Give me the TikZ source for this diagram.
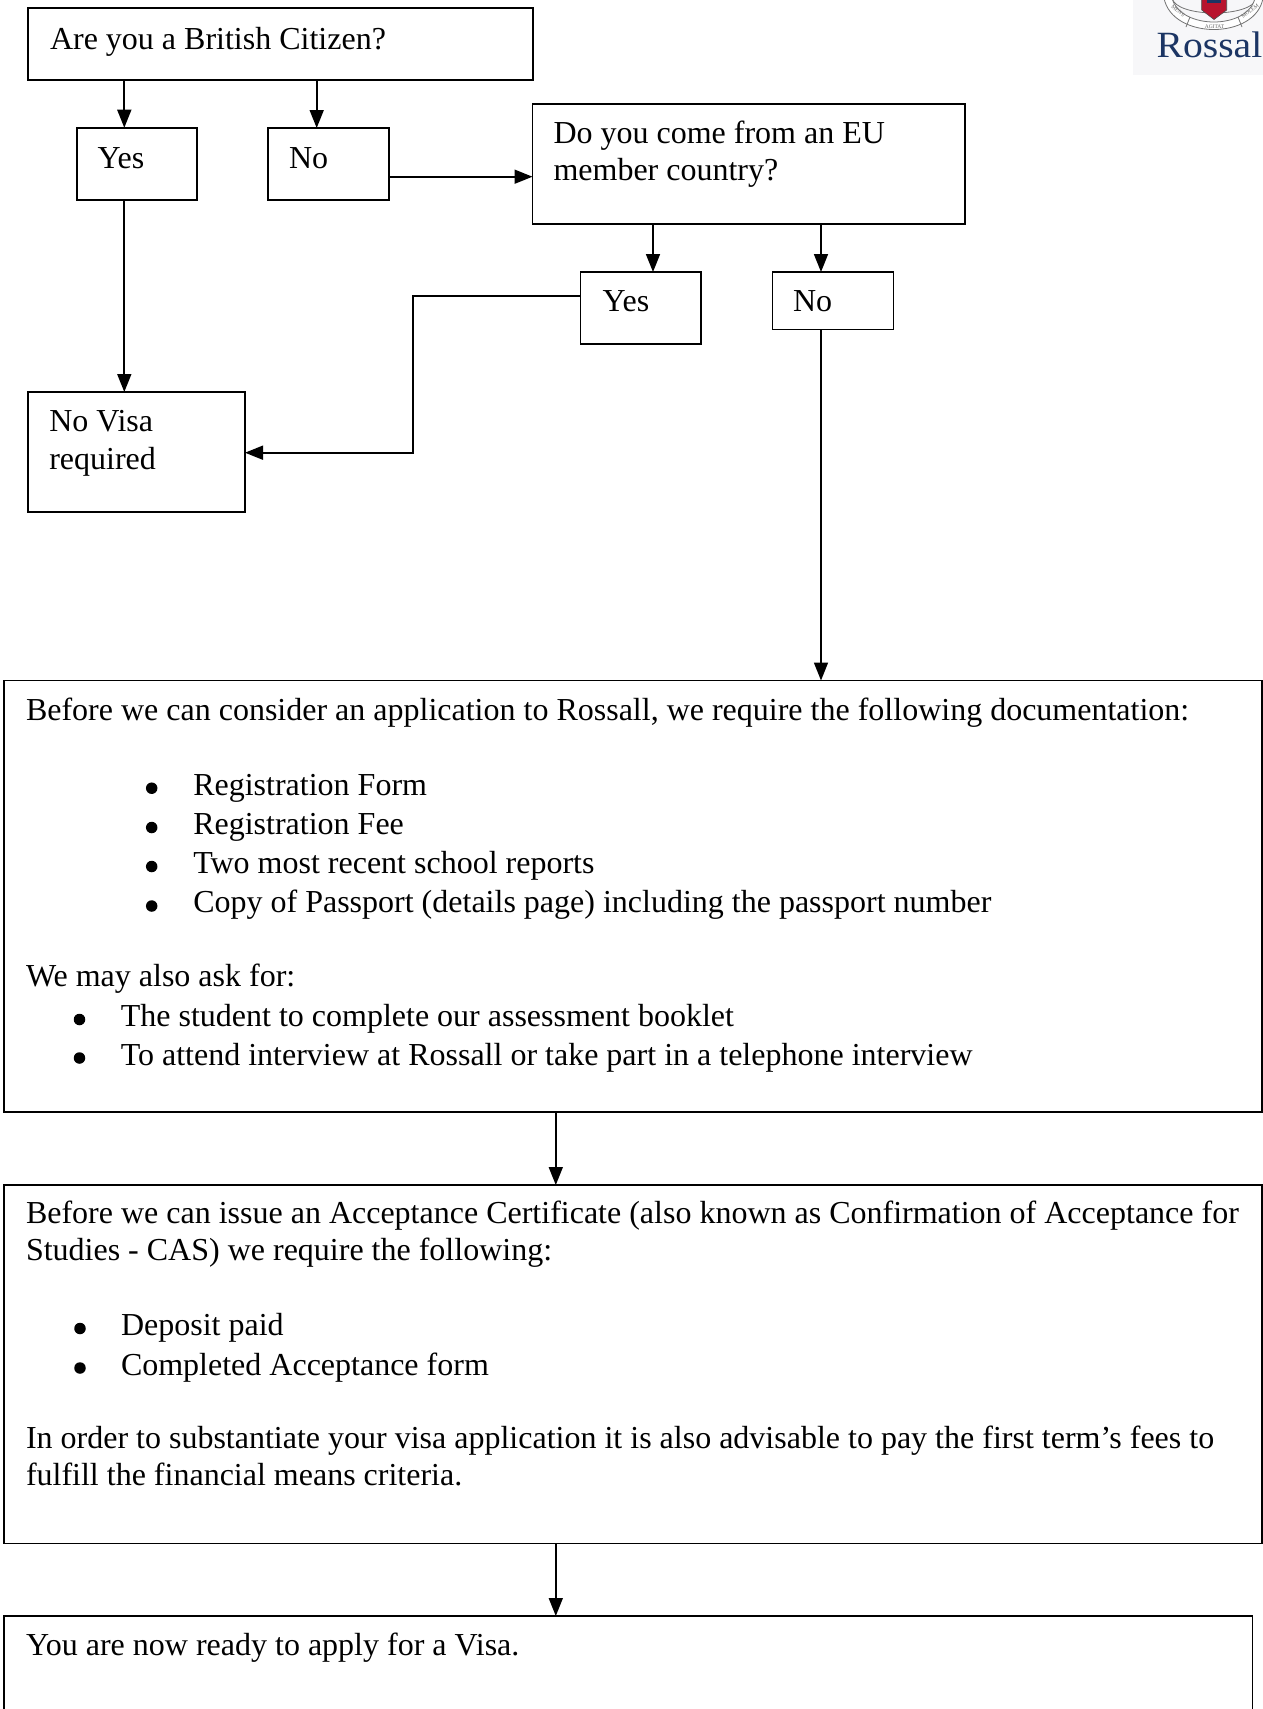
\documentclass[tikz,border=0pt]{standalone}
\usepackage{fontspec}
\setmainfont{Liberation Serif}
\usetikzlibrary{arrows.meta}
\definecolor{navy}{HTML}{1C3564}
\definecolor{crimson}{HTML}{B8142E}
\definecolor{logobg}{HTML}{F7F7F9}
\tikzset{
  box/.style={draw=black, line width=1.9pt, rectangle, inner sep=0pt, outer sep=0pt, anchor=north west, fill=white},
  txt/.style={anchor=base west, inner sep=0pt, outer sep=0pt, font=\fontsize{32pt}{37pt}\selectfont},
  bul/.style={circle, fill=black, inner sep=0pt, minimum size=11.5pt},
  arr/.style={-{Triangle[width=14pt,length=18pt]}, line width=1.7pt},
  crestline/.style={draw=black!55, line width=0.8pt},
  motto/.style={inner sep=0pt, text=black!60, font=\fontsize{5.5pt}{6pt}\selectfont},
}
\begin{document}
\begin{tikzpicture}[x=1pt,y=-1pt]
\useasboundingbox (0,0) rectangle (1263,1709);
\clip (0,0) rectangle (1263,1709);
\fill[white] (0,0) rectangle (1263,1709);

% ---- logo ----
\fill[logobg] (1133,0) rectangle (1263,75);
\draw[crestline] (1172,-2) .. controls (1176,18) and (1252,18) .. (1257,-2);
\draw[crestline, fill=white] (1164,-2) .. controls (1172,40) and (1256,40) .. (1263,-2) -- (1255,-2) .. controls (1248,30) and (1180,30) .. (1172,-2) -- cycle;
\draw[crestline] (1190,17) -- (1186,27);
\draw[crestline] (1238,17) -- (1242,27);
\draw[draw=black!70, fill=crimson, line width=0.6pt] (1201.7,-1) -- (1201.7,10) -- (1214,19.5) -- (1226.7,10) -- (1226.7,-1) -- cycle;
\fill[navy] (1207,-1) rectangle (1221,3);
\node[motto, rotate=-38] (m1) at (1178,11) {MENS};
\node[motto] (m2) at (1214.5,26.5) {AGITAT};
\node[motto, rotate=38] (m3) at (1250,11) {MOLEM};
\node[anchor=base east, inner sep=0pt, text=navy, font=\fontsize{37pt}{40pt}\selectfont] (logo) at (1262.5,57) {\scalebox{1.07}[1]{Rossal}};

% ---- upper flowchart ----
\node[box, minimum width=505pt, minimum height=72pt] (q1) at (28,8) {};
\node[txt] (q1t) at (50,49.3) {Are you a British Citizen?};

\node[box, minimum width=120pt, minimum height=72.3pt] (yes1) at (76.7,127.7) {};
\node[txt] (yes1t) at (97.7,168) {Yes};
\node[box, minimum width=121pt, minimum height=72pt] (no1) at (268,128) {};
\node[txt] (no1t) at (289,168) {No};

\node[box, minimum width=432.5pt, minimum height=120pt] (eu) at (532.5,104) {};
\node[txt] (eut1) at (553.5,143.3) {Do you come from an EU};
\node[txt] (eut2) at (553.5,180) {member country?};

\node[box, minimum width=120.5pt, minimum height=72pt] (yes2) at (580.5,272) {};
\node[txt] (yes2t) at (602.7,311.7) {Yes};
\node[box, minimum width=121pt, minimum height=57.5pt] (no2) at (772.5,272) {};
\node[txt] (no2t) at (793,311) {No};

\node[box, minimum width=216.7pt, minimum height=120pt] (nv) at (28.3,392) {};
\node[txt] (nvt1) at (49.3,431.7) {No Visa};
\node[txt] (nvt2) at (49.3,469) {required};

% ---- box 1 ----
\node[box, minimum width=1258pt, minimum height=431.5pt] (b1) at (4,680.5) {};
\node[txt] (b1t1) at (26,720) {Before we can consider an application to Rossall, we require the following documentation:};
\node[bul] (b1b1) at (151.7,788.2) {};
\node[txt] (b1i1) at (193.3,795) {Registration Form};
\node[bul] (b1b2) at (151.7,827.5) {};
\node[txt] (b1i2) at (193.3,834.3) {Registration Fee};
\node[bul] (b1b3) at (151.7,866.5) {};
\node[txt] (b1i3) at (193.3,873.3) {Two most recent school reports};
\node[bul] (b1b4) at (151.7,906) {};
\node[txt] (b1i4) at (193.3,912.8) {Copy of Passport (details page) including the passport number};
\node[txt] (b1t2) at (26,986.7) {We may also ask for:};
\node[bul] (b1b5) at (79.5,1019.5) {};
\node[txt] (b1i5) at (120.8,1026.5) {The student to complete our assessment booklet};
\node[bul] (b1b6) at (79.5,1058) {};
\node[txt] (b1i6) at (120.8,1065) {To attend interview at Rossall or take part in a telephone interview};

% ---- box 2 ----
\node[box, minimum width=1258pt, minimum height=358.5pt] (b2) at (4,1185) {};
\node[txt] (b2t1) at (26,1223.3) {Before we can issue an Acceptance Certificate (also known as Confirmation of Acceptance for};
\node[txt] (b2t2) at (26,1260) {Studies - CAS) we require the following:};
\node[bul] (b2b1) at (80,1328.5) {};
\node[txt] (b2i1) at (121,1335.7) {Deposit paid};
\node[bul] (b2b2) at (80,1368) {};
\node[txt] (b2i2) at (121,1375) {Completed Acceptance form};
\node[txt] (b2t3) at (26,1448.3) {In order to substantiate your visa application it is also advisable to pay the first term’s fees to};
\node[txt] (b2t4) at (26,1485) {fulfill the financial means criteria.};

% ---- box 3 ----
\node[box, minimum width=1248.5pt, minimum height=120pt] (b3) at (4,1616) {};
\node[txt] (b3t1) at (26,1655) {You are now ready to apply for a Visa.};

% ---- connector guides ----
\coordinate (ax1) at (124.3,0);
\coordinate (ax2) at (316.7,0);
\coordinate (ay1) at (0,176.7);
\coordinate (ax3) at (653,0);
\coordinate (ax4) at (821,0);
\coordinate (bend1) at (413.3,296);
\coordinate (bend2) at (413.3,452.7);
\coordinate (ax5) at (555.8,0);

% ---- connectors ----
\draw[arr] (q1.south -| ax1) -- (yes1.north -| ax1);
\draw[arr] (q1.south -| ax2) -- (no1.north -| ax2);
\draw[arr] (no1.east |- ay1) -- (eu.west |- ay1);
\draw[arr] (eu.south -| ax3) -- (yes2.north -| ax3);
\draw[arr] (eu.south -| ax4) -- (no2.north -| ax4);
\draw[arr] (yes1.south -| ax1) -- (nv.north -| ax1);
\draw[arr] (yes2.west |- bend1) -- (bend1) -- (bend2) -- (nv.east |- bend2);
\draw[arr] (no2.south -| ax4) -- (b1.north -| ax4);
\draw[arr] (b1.south -| ax5) -- (b2.north -| ax5);
\draw[arr] (b2.south -| ax5) -- (b3.north -| ax5);
\end{tikzpicture}
\end{document}
